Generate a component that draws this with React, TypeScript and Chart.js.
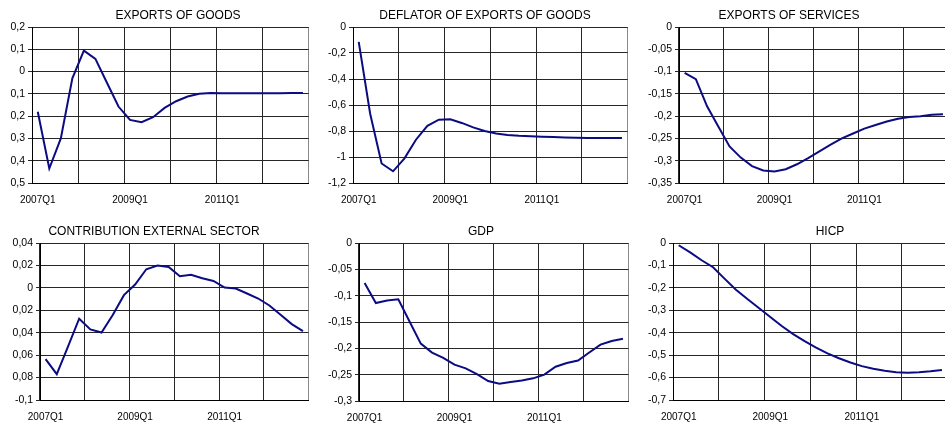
import { useEffect, useRef } from "react";
import { Chart, registerables } from "chart.js";

Chart.register(...registerables);

const quarters = [
  "2007Q1", "2007Q2", "2007Q3", "2007Q4",
  "2008Q1", "2008Q2", "2008Q3", "2008Q4",
  "2009Q1", "2009Q2", "2009Q3", "2009Q4",
  "2010Q1", "2010Q2", "2010Q3", "2010Q4",
  "2011Q1", "2011Q2", "2011Q3", "2011Q4",
  "2012Q1", "2012Q2", "2012Q3", "2012Q4",
];

const exportsGoods = [-0.18, -0.435, -0.3, -0.03, 0.094, 0.057, -0.05, -0.157, -0.217, -0.227, -0.205, -0.163, -0.133, -0.112, -0.1, -0.096, -0.097, -0.097, -0.097, -0.097, -0.097, -0.097, -0.096, -0.096];
const deflatorGoods = [-0.115, -0.667, -1.05, -1.11, -1.01, -0.867, -0.76, -0.713, -0.71, -0.738, -0.772, -0.8, -0.82, -0.83, -0.836, -0.84, -0.844, -0.847, -0.85, -0.852, -0.853, -0.854, -0.854, -0.854];
const exportsServices = [-0.103, -0.117, -0.178, -0.223, -0.268, -0.293, -0.312, -0.322, -0.324, -0.319, -0.308, -0.294, -0.279, -0.264, -0.25, -0.239, -0.228, -0.22, -0.212, -0.206, -0.202, -0.2, -0.197, -0.196];
const contribution = [-0.0635, -0.077, -0.0525, -0.0275, -0.037, -0.0398, -0.0243, -0.0065, 0.003, 0.0166, 0.0199, 0.0187, 0.0104, 0.0116, 0.0086, 0.0062, 0.0003, -0.0006, -0.005, -0.0095, -0.0157, -0.024, -0.0323, -0.0386];
const gdp = [-0.076, -0.114, -0.109, -0.107, -0.149, -0.191, -0.208, -0.218, -0.231, -0.238, -0.249, -0.262, -0.267, -0.264, -0.261, -0.257, -0.25, -0.235, -0.228, -0.223, -0.208, -0.193, -0.186, -0.182];
const hicp = [-0.01, -0.042, -0.077, -0.108, -0.159, -0.208, -0.25, -0.29, -0.33, -0.37, -0.406, -0.437, -0.466, -0.492, -0.514, -0.533, -0.549, -0.561, -0.57, -0.576, -0.578, -0.576, -0.572, -0.566];

const ticksGoods = [0.2, 0.1, 0, -0.1, -0.2, -0.3, -0.4, -0.5];
const labelsGoods = ["0,2", "0,1", "0", "0,1", "0,2", "0,3", "0,4", "0,5"];
const ticksDeflator = [0, -0.2, -0.4, -0.6, -0.8, -1, -1.2];
const labelsDeflator = ["0", "-0,2", "-0,4", "-0,6", "-0,8", "-1", "-1,2"];
const ticksServices = [0, -0.05, -0.1, -0.15, -0.2, -0.25, -0.3, -0.35];
const labelsServices = ["0", "-0,05", "-0,1", "-0,15", "-0,2", "-0,25", "-0,3", "-0,35"];
const ticksContribution = [0.04, 0.02, 0, -0.02, -0.04, -0.06, -0.08, -0.1];
const labelsContribution = ["0,04", "0,02", "0", "0,02", "0,04", "0,06", "0,08", "-0,1"];
const ticksGdp = [0, -0.05, -0.1, -0.15, -0.2, -0.25, -0.3];
const labelsGdp = ["0", "-0,05", "-0,1", "-0,15", "-0,2", "-0,25", "-0,3"];
const ticksHicp = [0, -0.1, -0.2, -0.3, -0.4, -0.5, -0.6, -0.7];
const labelsHicp = ["0", "-0,1", "-0,2", "-0,3", "-0,4", "-0,5", "-0,6", "-0,7"];

const titles = [
  "EXPORTS OF GOODS",
  "DEFLATOR OF EXPORTS OF GOODS",
  "EXPORTS OF SERVICES",
  "CONTRIBUTION EXTERNAL SECTOR",
  "GDP",
  "HICP",
];

const FONT = '"Liberation Sans", Arial, sans-serif';
const LINE_COLOR = "#0c0c82";
const GRID_COLOR = "#262626";

type Geo = { cl: number; ct: number; L: number; R: number; T: number; B: number; tx: number; ty: number };

const geos: Geo[] = [
  { cl: 0, ct: 0, L: 32, R: 312, T: 27, B: 183, tx: 178, ty: 15.5 },
  { cl: 315, ct: 0, L: 353, R: 631, T: 27, B: 183, tx: 485, ty: 15.5 },
  { cl: 630, ct: 0, L: 679, R: 952, T: 27, B: 183, tx: 789, ty: 15.5 },
  { cl: 0, ct: 212, L: 40, R: 312, T: 243, B: 400, tx: 154, ty: 231.5 },
  { cl: 315, ct: 212, L: 359, R: 632, T: 243, B: 401, tx: 481, ty: 231.5 },
  { cl: 630, ct: 212, L: 673, R: 951, T: 243, B: 400, tx: 830, ty: 231.5 },
];

const panelData = [
  { values: exportsGoods, ticks: ticksGoods, labels: labelsGoods },
  { values: deflatorGoods, ticks: ticksDeflator, labels: labelsDeflator },
  { values: exportsServices, ticks: ticksServices, labels: labelsServices },
  { values: contribution, ticks: ticksContribution, labels: labelsContribution },
  { values: gdp, ticks: ticksGdp, labels: labelsGdp },
  { values: hicp, ticks: ticksHicp, labels: labelsHicp },
];

const X_AXIS_H = 28;

const titlePlugin = {
  id: "panelTitle",
  afterDraw(chart: any, _args: any, opts: any) {
    const ctx = chart.ctx;
    ctx.save();
    ctx.font = `${opts.size}px ${FONT}`;
    ctx.fillStyle = "#000";
    ctx.textAlign = "center";
    ctx.textBaseline = "middle";
    ctx.fillText(opts.text, opts.x, opts.y);
    ctx.restore();
  },
};

function Panel({ index }: { index: number }) {
  const ref = useRef<HTMLCanvasElement | null>(null);
  const g = geos[index];
  const d = panelData[index];
  const width = g.R - g.cl + 2;
  const height = g.B - g.ct + X_AXIS_H;

  useEffect(() => {
    if (!ref.current) return;
    const tickVals = d.ticks;
    const tickLabels = d.labels;
    const chart = new Chart(ref.current, {
      type: "line",
      data: {
        labels: quarters,
        datasets: [
          {
            data: d.values,
            borderColor: LINE_COLOR,
            borderWidth: 2,
            pointRadius: 0,
            tension: 0,
            fill: false,
          },
        ],
      },
      options: {
        responsive: false,
        animation: false,
        events: [],
        layout: { padding: { left: 0, right: 2, top: g.T - g.ct, bottom: 0 } },
        plugins: {
          legend: { display: false },
          tooltip: { enabled: false },
          title: { display: false },
          panelTitle: { text: titles[index], x: g.tx - g.cl, y: g.ty - g.ct, size: 12 },
        } as any,
        scales: {
          x: {
            type: "category",
            offset: true,
            grid: {
              offset: true,
              drawTicks: false,
              lineWidth: 1,
              color: (c: any) =>
                c.index === undefined ? "#8a8a8a" : c.index % 4 === 0 ? GRID_COLOR : "rgba(0,0,0,0)",
            },
            border: { display: true, color: "#000", width: 1 },
            ticks: {
              autoSkip: false,
              maxRotation: 0,
              minRotation: 0,
              padding: 11,
              color: "#000",
              font: { family: FONT, size: 10 },
              callback: (_v: any, i: number) => (i % 8 === 0 ? quarters[i] : ""),
            },
            afterFit: (s: any) => {
              s.height = X_AXIS_H;
            },
          },
          y: {
            type: "linear",
            min: tickVals[tickVals.length - 1],
            max: tickVals[0],
            afterBuildTicks: (s: any) => {
              s.ticks = tickVals.slice().reverse().map((v) => ({ value: v }));
            },
            grid: { color: GRID_COLOR, lineWidth: 1, drawTicks: true, tickLength: 4 },
            border: { display: true, color: "#000", width: 1 },
            ticks: {
              padding: 3,
              color: "#000",
              font: { family: FONT, size: 10.5 },
              callback: (v: any) => {
                const k = tickVals.findIndex((t) => Math.abs(t - Number(v)) < 1e-9);
                return k >= 0 ? tickLabels[k] : "";
              },
            },
            afterFit: (s: any) => {
              s.width = g.L - g.cl;
            },
          },
        },
      },
      plugins: [titlePlugin as any],
    });
    return () => chart.destroy();
  }, [index]);

  return (
    <canvas
      ref={ref}
      width={width}
      height={height}
      style={{ position: "absolute", left: g.cl, top: g.ct, width, height }}
    />
  );
}

export default function App() {
  return (
    <div
      style={{
        position: "absolute",
        left: 0,
        top: 0,
        width: 945,
        height: 425,
        overflow: "hidden",
        background: "#fff",
      }}
    >
      {geos.map((_, i) => (
        <Panel key={i} index={i} />
      ))}
    </div>
  );
}
